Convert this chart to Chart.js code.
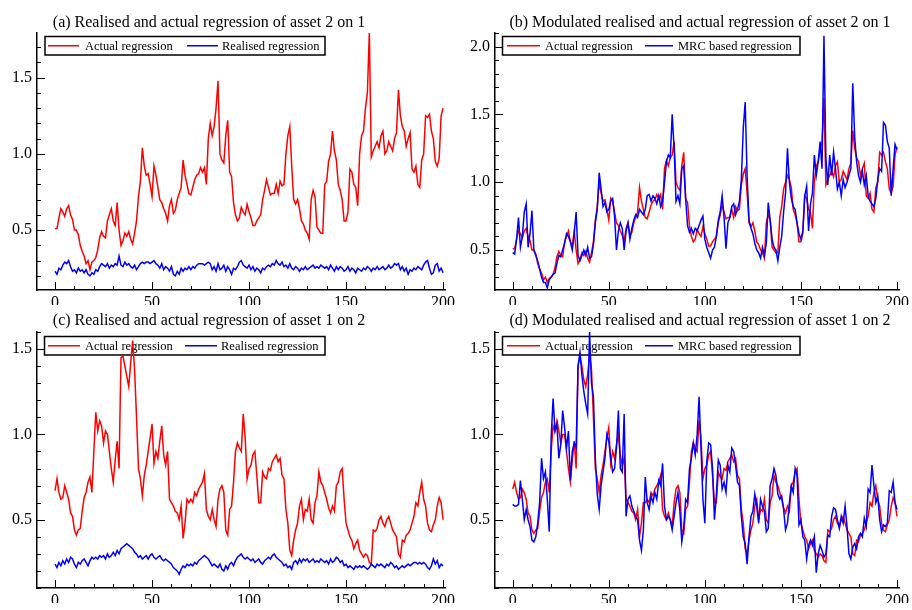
<!DOCTYPE html>
<html><head><meta charset="utf-8">
<script src="https://cdn.jsdelivr.net/npm/chart.js@4.4.1/dist/chart.umd.min.js"></script>
<style>
html,body{margin:0;padding:0;background:#fff;}
#wrap{position:relative;width:912px;height:610px;overflow:hidden;}
canvas{position:absolute;left:0;top:0;}
</style></head><body>
<div id="wrap">
<canvas id="ca" width="912" height="610"></canvas>
<canvas id="cb" width="912" height="610"></canvas>
<canvas id="cc" width="912" height="610"></canvas>
<canvas id="cd" width="912" height="610"></canvas>
</div>
<script>
// ---- tick labels / texts ----
const xTicks = [0, 50, 100, 150, 200];
const yTicksAC = [0.5, 1.0, 1.5];
const yTicksB = [0.5, 1.0, 1.5, 2.0];
const titles = [
  "(a) Realised and actual regression of asset 2 on 1",
  "(b) Modulated realised and actual regression of asset 2 on 1",
  "(c) Realised and actual regression of asset 1 on 2",
  "(d) Modulated realised and actual regression of asset 1 on 2"
];
const legendA = ["Actual regression", "Realised regression"];
const legendB = ["Actual regression", "MRC based regression"];

// ---- series (index 0..200) ----
const aActual = [0.51,0.51,0.58,0.64,0.62,0.59,0.64,0.66,0.60,0.57,
0.50,0.50,0.47,0.40,0.36,0.33,0.28,0.30,0.24,0.29,
0.30,0.32,0.37,0.45,0.49,0.46,0.45,0.56,0.60,0.64,
0.56,0.53,0.68,0.50,0.40,0.43,0.48,0.46,0.49,0.44,
0.41,0.48,0.56,0.72,0.82,1.04,0.92,0.86,0.87,0.80,
0.72,0.92,0.86,0.78,0.70,0.68,0.64,0.61,0.56,0.66,
0.70,0.61,0.63,0.70,0.74,0.78,0.96,0.86,0.80,0.74,
0.73,0.78,0.83,0.86,0.87,0.91,0.88,0.91,0.80,1.10,
1.20,1.12,1.18,1.30,1.48,1.00,0.96,0.94,1.12,1.22,
0.88,0.85,0.68,0.60,0.56,0.58,0.65,0.62,0.60,0.67,
0.62,0.58,0.53,0.53,0.56,0.58,0.60,0.70,0.76,0.83,
0.78,0.73,0.74,0.74,0.80,0.74,0.82,0.79,0.80,1.00,
1.12,1.18,0.92,0.70,0.67,0.70,0.64,0.56,0.54,0.50,
0.48,0.44,0.70,0.76,0.72,0.52,0.50,0.48,0.48,0.80,
0.82,0.95,1.00,1.15,1.02,0.96,0.80,0.76,0.70,0.56,
0.56,0.62,0.90,0.88,0.80,0.78,0.66,1.00,1.12,1.15,
1.30,1.40,1.80,0.98,1.02,1.05,1.08,1.04,1.12,1.15,
1.00,1.02,1.08,1.05,1.02,1.10,1.14,1.42,1.25,1.18,
1.15,1.05,1.10,1.14,0.90,0.88,0.92,0.80,0.78,0.96,
1.00,1.25,1.24,1.26,1.15,1.10,0.95,0.92,0.97,1.25,
1.30];
const aRealised = [0.23,0.21,0.25,0.24,0.27,0.29,0.28,0.30,0.26,0.23,
0.24,0.22,0.25,0.23,0.24,0.22,0.24,0.21,0.20,0.22,
0.21,0.24,0.23,0.26,0.28,0.27,0.26,0.28,0.25,0.27,
0.26,0.28,0.27,0.33,0.27,0.26,0.29,0.27,0.28,0.26,
0.25,0.27,0.24,0.26,0.28,0.29,0.28,0.29,0.29,0.28,
0.29,0.30,0.28,0.27,0.25,0.28,0.24,0.26,0.25,0.23,
0.26,0.21,0.20,0.23,0.21,0.25,0.23,0.25,0.24,0.26,
0.24,0.26,0.25,0.27,0.28,0.28,0.28,0.27,0.28,0.29,
0.28,0.24,0.26,0.23,0.28,0.24,0.25,0.27,0.23,0.26,
0.24,0.21,0.25,0.24,0.26,0.29,0.30,0.27,0.26,0.25,
0.27,0.24,0.26,0.23,0.25,0.24,0.22,0.25,0.24,0.26,
0.27,0.26,0.28,0.27,0.30,0.28,0.27,0.29,0.26,0.27,
0.25,0.28,0.25,0.24,0.26,0.25,0.23,0.25,0.24,0.26,
0.24,0.25,0.26,0.27,0.25,0.26,0.25,0.27,0.26,0.25,
0.26,0.24,0.27,0.25,0.23,0.26,0.24,0.26,0.25,0.23,
0.24,0.26,0.23,0.25,0.24,0.22,0.25,0.24,0.23,0.25,
0.24,0.26,0.25,0.23,0.25,0.24,0.26,0.24,0.25,0.26,
0.24,0.25,0.27,0.25,0.26,0.28,0.27,0.28,0.24,0.26,
0.23,0.25,0.21,0.24,0.23,0.25,0.24,0.26,0.25,0.24,
0.27,0.29,0.30,0.25,0.21,0.22,0.27,0.28,0.23,0.25,
0.22];
const bActual = [0.51,0.51,0.58,0.64,0.62,0.59,0.64,0.66,0.60,0.57,
0.50,0.50,0.47,0.40,0.36,0.33,0.28,0.30,0.26,0.29,
0.30,0.32,0.37,0.45,0.49,0.46,0.45,0.56,0.60,0.64,
0.56,0.53,0.64,0.50,0.40,0.43,0.48,0.46,0.49,0.44,
0.41,0.48,0.56,0.72,0.82,1.00,0.92,0.86,0.87,0.80,
0.72,0.88,0.86,0.78,0.70,0.68,0.64,0.61,0.56,0.66,
0.70,0.61,0.63,0.70,0.74,0.78,0.96,0.86,0.80,0.74,
0.73,0.78,0.83,0.86,0.87,0.91,0.88,0.91,0.80,1.10,
1.16,1.12,1.18,1.20,1.30,1.00,0.96,0.94,1.12,1.22,
0.88,0.85,0.68,0.60,0.56,0.58,0.65,0.62,0.60,0.67,
0.62,0.58,0.53,0.53,0.56,0.58,0.60,0.70,0.76,0.83,
0.78,0.73,0.74,0.74,0.80,0.74,0.82,0.79,0.80,0.98,
1.06,1.10,0.92,0.70,0.67,0.70,0.64,0.56,0.54,0.50,
0.48,0.44,0.70,0.76,0.72,0.52,0.50,0.48,0.48,0.74,
0.82,0.95,1.00,1.05,1.02,0.96,0.80,0.76,0.70,0.56,
0.56,0.62,0.90,0.88,0.80,0.78,0.66,1.00,1.12,1.15,
1.24,1.30,1.62,0.98,1.02,1.05,1.08,1.04,1.12,1.15,
1.00,1.02,1.08,1.05,1.02,1.10,1.14,1.38,1.25,1.18,
1.15,1.05,1.10,1.14,0.90,0.88,0.92,0.80,0.78,0.96,
1.00,1.22,1.20,1.22,1.15,1.10,0.95,0.92,0.97,1.20,
1.26];
const bMRC = [0.48,0.47,0.58,0.74,0.52,0.60,0.78,0.84,0.52,0.62,
0.79,0.50,0.46,0.42,0.36,0.30,0.26,0.26,0.22,0.28,
0.30,0.32,0.33,0.40,0.46,0.45,0.50,0.55,0.62,0.60,
0.56,0.50,0.62,0.78,0.46,0.42,0.46,0.50,0.46,0.52,
0.44,0.45,0.54,0.70,0.80,1.07,0.95,0.82,0.85,0.78,
0.80,0.86,0.88,0.75,0.50,0.64,0.70,0.66,0.50,0.64,
0.70,0.58,0.66,0.72,0.76,0.74,0.80,0.78,0.76,0.80,
0.90,0.91,0.86,0.90,0.88,0.84,0.90,0.82,0.86,1.00,
1.15,1.20,1.18,1.50,1.25,0.86,0.90,0.84,1.10,1.12,
0.88,0.68,0.63,0.66,0.62,0.66,0.64,0.68,0.72,0.75,
0.58,0.52,0.48,0.44,0.50,0.52,0.60,0.72,0.78,0.90,
0.74,0.51,0.70,0.74,0.82,0.84,0.76,0.80,0.86,1.02,
1.40,1.59,1.04,0.72,0.66,0.62,0.55,0.50,0.48,0.44,
0.52,0.46,0.55,0.85,0.72,0.58,0.52,0.50,0.42,0.52,
0.60,0.78,0.92,1.25,1.00,0.88,0.82,0.80,0.70,0.62,
0.58,0.64,0.90,0.97,0.64,0.84,0.92,1.20,1.05,1.15,
1.30,1.10,2.08,1.18,0.98,1.20,1.05,1.22,1.10,0.95,
1.00,0.90,1.02,0.96,1.00,1.05,1.10,1.73,1.33,1.15,
1.05,1.00,1.08,0.98,1.05,0.90,0.86,0.84,0.82,0.88,
1.02,1.10,1.08,1.44,1.42,1.30,1.25,0.90,1.10,1.28,
1.24];
const cActual = [0.67,0.74,0.66,0.62,0.63,0.70,0.66,0.62,0.54,0.52,
0.44,0.41,0.44,0.45,0.55,0.63,0.66,0.72,0.75,0.66,
0.90,1.13,1.02,1.08,1.05,0.95,1.02,1.00,0.90,0.80,
0.72,0.85,0.96,0.80,1.45,1.46,1.40,1.34,1.28,1.42,
1.55,1.38,1.10,0.80,0.74,0.64,0.76,0.82,0.90,0.98,
1.06,0.83,0.90,0.86,0.96,1.05,0.88,0.82,0.90,0.62,
0.60,0.58,0.55,0.54,0.50,0.58,0.39,0.48,0.62,0.60,
0.62,0.60,0.66,0.64,0.68,0.70,0.72,0.77,0.56,0.52,
0.50,0.56,0.50,0.46,0.62,0.68,0.70,0.66,0.44,0.41,
0.56,0.58,0.72,0.90,0.95,0.92,0.90,1.12,0.98,0.74,
0.80,0.82,0.88,0.90,0.76,0.60,0.60,0.78,0.75,0.74,
0.80,0.79,0.84,0.86,0.88,0.84,0.86,0.76,0.74,0.56,
0.48,0.32,0.29,0.38,0.44,0.48,0.58,0.62,0.50,0.56,
0.55,0.62,0.50,0.48,0.60,0.64,0.78,0.72,0.70,0.66,
0.62,0.57,0.54,0.58,0.55,0.70,0.72,0.78,0.80,0.62,
0.48,0.44,0.40,0.38,0.33,0.36,0.38,0.32,0.30,0.28,
0.30,0.29,0.25,0.24,0.44,0.43,0.45,0.50,0.52,0.48,
0.46,0.50,0.52,0.48,0.44,0.42,0.40,0.30,0.28,0.38,
0.37,0.41,0.42,0.44,0.48,0.52,0.60,0.58,0.66,0.72,
0.62,0.58,0.48,0.44,0.43,0.47,0.50,0.58,0.63,0.60,
0.50];
const cRealised = [0.24,0.22,0.25,0.23,0.26,0.24,0.27,0.25,0.28,0.27,
0.24,0.22,0.25,0.24,0.26,0.27,0.25,0.23,0.26,0.28,
0.27,0.28,0.27,0.29,0.28,0.29,0.27,0.30,0.28,0.29,
0.31,0.29,0.32,0.30,0.33,0.34,0.35,0.36,0.35,0.34,
0.33,0.31,0.30,0.28,0.29,0.27,0.28,0.29,0.27,0.29,
0.30,0.28,0.27,0.28,0.29,0.27,0.26,0.27,0.26,0.25,
0.24,0.22,0.21,0.20,0.18,0.21,0.23,0.22,0.24,0.23,
0.24,0.23,0.25,0.24,0.26,0.27,0.28,0.29,0.28,0.27,
0.25,0.23,0.24,0.23,0.22,0.24,0.21,0.20,0.23,0.21,
0.24,0.25,0.23,0.26,0.28,0.29,0.30,0.28,0.27,0.28,
0.27,0.26,0.27,0.25,0.26,0.27,0.25,0.24,0.26,0.27,
0.28,0.27,0.29,0.30,0.28,0.27,0.26,0.25,0.23,0.24,
0.22,0.23,0.21,0.25,0.26,0.24,0.27,0.25,0.27,0.26,
0.27,0.25,0.26,0.27,0.25,0.26,0.25,0.27,0.26,0.25,
0.26,0.24,0.27,0.25,0.26,0.28,0.27,0.25,0.26,0.23,
0.24,0.22,0.23,0.22,0.21,0.23,0.22,0.23,0.22,0.23,
0.22,0.21,0.22,0.24,0.23,0.22,0.24,0.23,0.24,0.23,
0.22,0.24,0.23,0.25,0.24,0.22,0.23,0.21,0.22,0.23,
0.22,0.23,0.24,0.23,0.24,0.25,0.25,0.24,0.25,0.24,
0.25,0.24,0.22,0.21,0.23,0.27,0.24,0.26,0.22,0.24,
0.23];
const dActual = [0.68,0.72,0.66,0.62,0.63,0.68,0.66,0.62,0.54,0.52,
0.44,0.42,0.44,0.45,0.55,0.63,0.66,0.72,0.74,0.66,
0.90,1.05,1.02,1.08,1.02,0.95,1.00,1.00,0.90,0.80,
0.72,0.85,0.96,0.80,1.40,1.46,1.40,1.32,1.28,1.35,
1.47,1.38,1.10,0.80,0.74,0.66,0.76,0.82,0.90,0.98,
1.04,0.83,0.90,0.86,0.94,1.00,0.88,0.82,0.86,0.62,
0.60,0.58,0.55,0.54,0.50,0.56,0.40,0.48,0.60,0.60,
0.62,0.60,0.66,0.64,0.68,0.70,0.72,0.76,0.56,0.52,
0.50,0.54,0.50,0.46,0.60,0.68,0.70,0.66,0.44,0.42,
0.56,0.58,0.72,0.90,0.95,0.92,0.90,1.08,0.98,0.74,
0.80,0.82,0.88,0.90,0.76,0.60,0.60,0.78,0.75,0.74,
0.80,0.79,0.84,0.86,0.88,0.84,0.86,0.76,0.74,0.56,
0.48,0.33,0.30,0.38,0.44,0.48,0.58,0.62,0.50,0.56,
0.55,0.62,0.50,0.48,0.60,0.64,0.76,0.72,0.70,0.66,
0.62,0.57,0.54,0.58,0.55,0.70,0.72,0.78,0.80,0.62,
0.48,0.44,0.40,0.38,0.33,0.36,0.38,0.32,0.30,0.28,
0.30,0.29,0.26,0.25,0.44,0.43,0.45,0.50,0.52,0.48,
0.46,0.50,0.52,0.48,0.44,0.42,0.40,0.30,0.29,0.38,
0.37,0.41,0.42,0.44,0.48,0.52,0.60,0.58,0.66,0.70,
0.62,0.58,0.48,0.44,0.43,0.47,0.50,0.58,0.63,0.60,
0.52];
const dMRC = [0.59,0.58,0.58,0.59,0.73,0.62,0.50,0.56,0.50,0.46,
0.38,0.37,0.40,0.48,0.60,0.86,0.74,0.78,0.62,0.43,
0.98,1.21,1.02,1.06,0.86,0.94,1.14,1.04,0.92,1.02,
0.73,0.90,0.95,0.92,1.40,1.48,1.35,1.25,1.18,1.12,
1.60,1.30,1.22,0.86,0.65,0.56,0.70,0.78,0.86,1.00,
0.96,0.86,0.78,0.80,0.92,1.14,0.80,0.78,1.12,0.52,
0.62,0.64,0.58,0.55,0.52,0.50,0.38,0.32,0.44,0.75,
0.60,0.56,0.64,0.60,0.66,0.62,0.73,0.70,0.83,0.58,
0.50,0.52,0.50,0.44,0.52,0.60,0.66,0.55,0.37,0.45,
0.62,0.60,0.80,0.86,0.95,0.88,1.00,1.22,0.92,0.62,
0.48,0.84,0.95,0.94,0.80,0.50,0.65,0.85,0.82,0.68,
0.72,0.66,0.82,0.78,0.92,0.90,0.82,0.72,0.70,0.52,
0.40,0.36,0.24,0.40,0.52,0.55,0.65,0.58,0.48,0.62,
0.58,0.55,0.43,0.45,0.70,0.74,0.80,0.76,0.65,0.62,
0.64,0.56,0.44,0.48,0.60,0.70,0.66,0.80,0.76,0.47,
0.50,0.40,0.38,0.27,0.35,0.38,0.35,0.40,0.19,0.30,
0.35,0.32,0.28,0.30,0.41,0.40,0.52,0.57,0.56,0.50,
0.45,0.52,0.48,0.58,0.46,0.30,0.27,0.34,0.36,0.33,
0.40,0.42,0.40,0.51,0.46,0.68,0.66,0.82,0.70,0.60,
0.64,0.50,0.43,0.47,0.46,0.48,0.67,0.66,0.72,0.60,
0.56];

// ---- helpers ----
const FONT = "'Liberation Serif','Times New Roman',serif";
Chart.defaults.font.family = FONT;
Chart.defaults.color = '#000';
const RED = '#ff0000', BLUE = '#0000ff';

const deco = {
  id: 'deco',
  beforeDatasetsDraw(chart, args, o) {
    const ctx = chart.ctx, L = o.legend;
    ctx.save();
    ctx.fillStyle = '#fff';
    ctx.fillRect(L.x, L.y, L.w, L.h);
    ctx.strokeStyle = '#000'; ctx.lineWidth = 1.5;
    ctx.strokeRect(L.x, L.y, L.w, L.h);
    const cy = L.y + L.h / 2;
    ctx.font = "12.5px " + FONT;
    ctx.textBaseline = 'middle'; ctx.textAlign = 'left';
    chart.data.datasets.forEach((ds, i) => {
      const it = L.items[i];
      ctx.strokeStyle = ds.borderColor; ctx.lineWidth = 1.5;
      ctx.beginPath(); ctx.moveTo(it[0], cy); ctx.lineTo(it[1], cy); ctx.stroke();
      ctx.fillStyle = '#000';
      ctx.fillText(ds.label, it[2], cy + 0.5);
    });
    ctx.restore();
  },
  afterDraw(chart, args, o) {
    const ctx = chart.ctx, xs = chart.scales.x, ys = chart.scales.y, ca = chart.chartArea;
    ctx.save();
    ctx.strokeStyle = '#000'; ctx.lineWidth = 1;
    const ln = (x0, y0, x1, y1) => { ctx.beginPath(); ctx.moveTo(x0, y0); ctx.lineTo(x1, y1); ctx.stroke(); };
    for (let k = Math.ceil(ys.min * 10 - 1e-9); k <= Math.floor(ys.max * 10 + 1e-9); k++) {
      const py = Math.round(ys.getPixelForValue(k / 10)) + 0.5;
      ln(ca.left, py, ca.left + (k % 5 === 0 ? 8 : 4), py);
    }
    for (let k = 0; k <= 200; k += 10) {
      const px = Math.round(xs.getPixelForValue(k)) + 0.5;
      ln(px, ca.bottom, px, ca.bottom - (k % 50 === 0 ? 8 : 4));
    }
    ctx.fillStyle = '#000';
    ctx.font = "16px " + FONT;
    ctx.textAlign = 'center'; ctx.textBaseline = 'alphabetic';
    ctx.fillText(o.title, o.tx, o.ty);
    ctx.restore();
  }
};

function makeChart(id, cfg) {
  const mk = (vals) => vals.map((v, i) => ({ x: i, y: v }));
  new Chart(document.getElementById(id), {
    type: 'line',
    data: {
      datasets: [
        { label: cfg.labels[0], data: mk(cfg.s1), borderColor: RED, borderWidth: 1.5, pointRadius: 0, tension: 0, order: 1 },
        { label: cfg.labels[1], data: mk(cfg.s2), borderColor: BLUE, borderWidth: 1.5, pointRadius: 0, tension: 0, order: 0 }
      ]
    },
    options: {
      responsive: false, animation: false, events: [],
      layout: { padding: cfg.pad },
      plugins: {
        legend: { display: false }, tooltip: { enabled: false },
        deco: { title: cfg.title, tx: cfg.tx, ty: cfg.ty, legend: cfg.legend }
      },
      scales: {
        x: {
          type: 'linear', min: cfg.xMin, max: cfg.xMax,
          grid: { display: false, drawTicks: false },
          border: { display: true, color: '#000', width: 1.5 },
          afterBuildTicks: s => { s.ticks = xTicks.map(v => ({ value: v })); },
          afterFit: s => { s.height = 15; },
          ticks: { padding: 3, font: { size: 16, family: FONT }, color: '#000', callback: v => String(v), maxRotation: 0, autoSkip: false }
        },
        y: {
          type: 'linear', min: cfg.yMin, max: cfg.yMax,
          grid: { display: false, drawTicks: false },
          border: { display: true, color: '#000', width: 1.5 },
          afterBuildTicks: s => { s.ticks = cfg.yTicks.map(v => ({ value: v })); },
          afterFit: s => { s.width = cfg.yWidth; },
          ticks: { padding: 5, font: { size: 16, family: FONT }, color: '#000', callback: v => Number(v).toFixed(1), autoSkip: false }
        }
      }
    },
    plugins: [deco]
  });
}

makeChart('ca', {
  title: titles[0], tx: 209, ty: 27, labels: legendA, s1: aActual, s2: aRealised,
  xMin: -9.3, xMax: 201, yMin: 0.107, yMax: 1.793, yTicks: yTicksAC, yWidth: 37,
  pad: { left: 0, right: 467, top: 33, bottom: 305 },
  legend: { x: 45, y: 36.5, w: 280, h: 18.5, items: [[48, 79, 85], [187, 218, 222]] }
});
makeChart('cb', {
  title: titles[1], tx: 700, ty: 27, labels: legendB, s1: bActual, s2: bMRC,
  xMin: -9.23, xMax: 201.2, yMin: 0.205, yMax: 2.10, yTicks: yTicksB, yWidth: 39,
  pad: { left: 456, right: 7, top: 33, bottom: 305 },
  legend: { x: 502.5, y: 36.5, w: 297.5, h: 18.5, items: [[507, 540, 545], [645, 673, 678]] }
});
makeChart('cc', {
  title: titles[2], tx: 209, ty: 325, labels: legendA, s1: cActual, s2: cRealised,
  xMin: -9.3, xMax: 201, yMin: 0.10, yMax: 1.60, yTicks: yTicksAC, yWidth: 37,
  pad: { left: 0, right: 467, top: 332, bottom: 7 },
  legend: { x: 44.5, y: 336.5, w: 280.5, h: 18.5, items: [[48, 80, 85], [185, 217, 221]] }
});
makeChart('cd', {
  title: titles[3], tx: 700, ty: 325, labels: legendB, s1: dActual, s2: dMRC,
  xMin: -9.23, xMax: 201.2, yMin: 0.10, yMax: 1.60, yTicks: yTicksAC, yWidth: 39,
  pad: { left: 456, right: 7, top: 332, bottom: 7 },
  legend: { x: 502.5, y: 336.5, w: 297.5, h: 18.5, items: [[507, 540, 545], [645, 673, 678]] }
});
</script>
</body></html>
